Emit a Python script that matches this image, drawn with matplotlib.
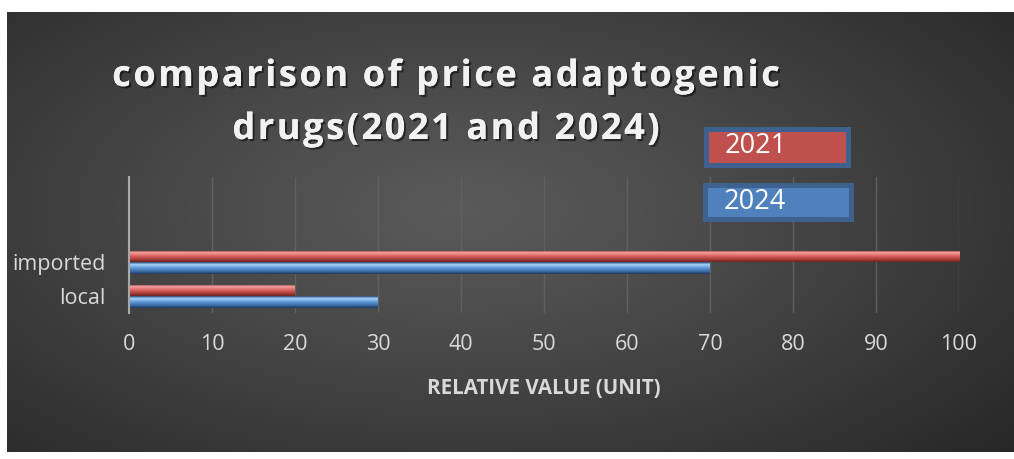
import numpy as np
import matplotlib.pyplot as plt
import matplotlib.patheffects as pe
from matplotlib.patches import Rectangle
from matplotlib.colors import LinearSegmentedColormap
from matplotlib.font_manager import FontProperties
from matplotlib.textpath import TextToPath

categories = ['local', 'imported']
values_2021 = [20, 100]
values_2024 = [30, 70]
years = ['2021', '2024']
x_ticks = list(range(0, 101, 10))
title_lines = ['comparison of price adaptogenic', 'drugs(2021 and 2024)']
x_label = 'RELATIVE VALUE (UNIT)'

W, H = 1014, 459
FONT = 'Open Sans'
fig = plt.figure(figsize=(W / 100, H / 100), dpi=100)
fig.patch.set_facecolor('white')


def fx(px):
    return px / W


def fy(py):
    return 1 - py / H


# dark panel with a soft radial gradient
bg = fig.add_axes([fx(7), fy(452), (W - 7) / W, (452 - 12) / H], zorder=0)
yy, xx = np.mgrid[0:1:300j, 0:1:600j]
d = np.sqrt(((xx - 0.45) / 0.75) ** 2 + ((yy - 0.45) / 0.85) ** 2)
shade = (0x5a - (0x5a - 0x26) * np.clip(d, 0, 1) ** 1.1) / 255
bg.imshow(np.dstack([shade, shade, shade]), aspect='auto', extent=[0, 1, 0, 1])
bg.axis('off')

ax = fig.add_axes([fx(129), fy(313), (959 - 129) / W, (313 - 177) / H], zorder=2)
ax.set_facecolor('none')

red_cmap = LinearSegmentedColormap.from_list('r', ['#7a2826', '#f3a3a1', '#e77572', '#c9534f', '#a33c39', '#6a2220'])
blue_cmap = LinearSegmentedColormap.from_list('b', ['#28487a', '#a9d3f8', '#74aae6', '#5085c4', '#3a68a2', '#1d3a63'])

ypos = np.arange(len(categories))
h = 0.34
grad = np.linspace(0, 1, 64).reshape(-1, 1)
for vals, cmap, off in [(values_2021, red_cmap, h / 2), (values_2024, blue_cmap, -h / 2)]:
    bars = ax.barh(ypos + off, vals, height=h, color='none', edgecolor='none', zorder=3)
    for b in bars:
        x0, y0 = b.get_x(), b.get_y()
        im = ax.imshow(grad, cmap=cmap, aspect='auto', zorder=3,
                       extent=[x0, x0 + b.get_width(), y0, y0 + b.get_height()], origin='upper')
        im.set_clip_path(b)

ax.set_xlim(0, 100)
ax.set_ylim(-0.485, 3.51)
ax.set_xticks(x_ticks)
ax.set_yticks(ypos)
ax.set_yticklabels(categories)
ax.grid(axis='x', color='#606060', lw=1, zorder=1)
ax.set_axisbelow(True)
for s in ['top', 'right', 'bottom']:
    ax.spines[s].set_visible(False)
ax.spines['left'].set_color('#a8a8a8')
ax.spines['left'].set_linewidth(1.5)
ax.spines['left'].set_zorder(4)
ax.tick_params(length=0, colors='#d9d9d9', labelsize=15.5)
ax.tick_params(axis='x', pad=15)
ax.tick_params(axis='y', pad=17)
for lab in ax.get_xticklabels() + ax.get_yticklabels():
    lab.set_fontfamily(FONT)

ax.set_xlabel(x_label, fontsize=14.8, fontweight='bold', color='#d9d9d9', fontfamily=FONT, labelpad=17)

# title, drawn letter by letter to get the wide character spacing
shadow = [pe.withSimplePatchShadow(offset=(1.5, -1.5), shadow_rgbFace='black', alpha=0.5), pe.Normal()]
title_prop = FontProperties(family=FONT, weight='bold', size=26)
t2p = TextToPath()
spacing = 2.6  # px between letters
for txt, py in zip(title_lines, [77, 130]):
    adv = [t2p.get_text_width_height_descent(txt[:i], title_prop, ismath=False)[0] * 100 / 72
           if i else 0 for i in range(len(txt) + 1)]
    total = adv[-1] + spacing * (len(txt) - 1)
    start = 446 - total / 2
    for i, ch in enumerate(txt):
        if ch == ' ':
            continue
        fig.text(fx(start + adv[i] + spacing * i), fy(py), ch, ha='left', va='center',
                 fontproperties=title_prop, color='#f2f2f2', path_effects=shadow)

# legend-like boxes
boxes = [((705.5, 128.5, 847.5, 164.5), '#c0504d', (725, 146)),
         ((704.5, 184.5, 850.5, 218.5), '#4f81bd', (724, 202))]
for ((l, t, r, b), fc, (tx, ty)), yr in zip(boxes, years):
    fig.add_artist(Rectangle((fx(l), fy(b)), (r - l) / W, (b - t) / H, transform=fig.transFigure,
                             facecolor=fc, edgecolor='#3f6190', linewidth=3.6, zorder=5))
    fig.text(fx(tx), fy(ty), yr, ha='left', va='center', fontsize=19.5, color='white',
             fontfamily=FONT, zorder=6)

fig.savefig('out.png', dpi=100)
